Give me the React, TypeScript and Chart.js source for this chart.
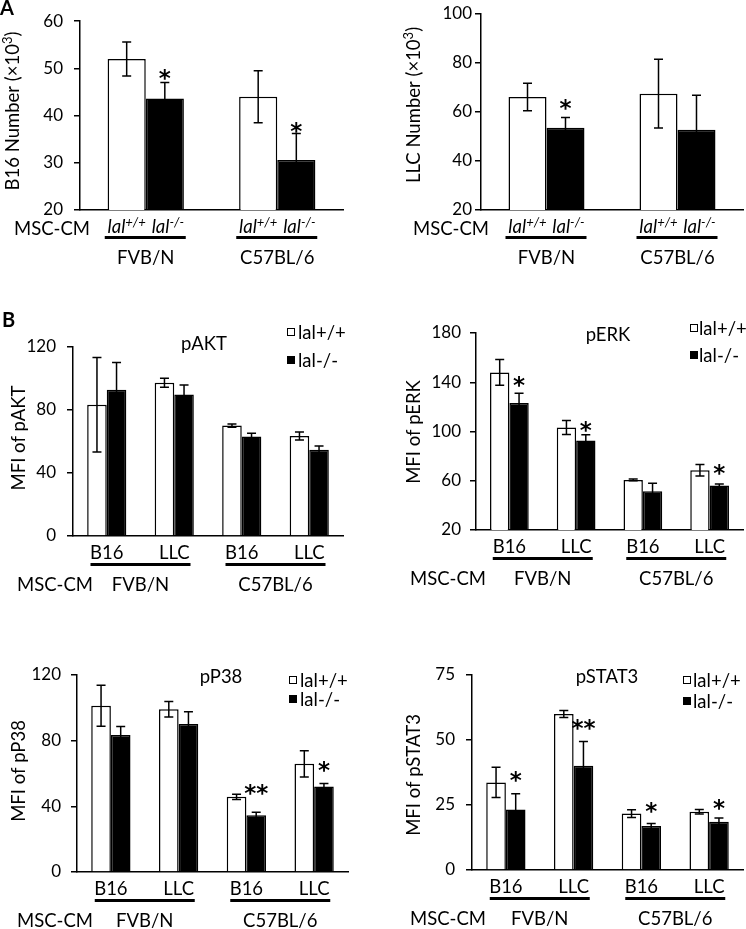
import React, { useEffect, useRef } from 'react';
import { Chart, registerables } from 'chart.js';
Chart.register(...registerables);

const W = 746;
const H = 929;
const FONT = 'Lato, "Open Sans", sans-serif';
const STAR_FONT = 'bold 23px "DejaVu Sans", sans-serif';

// ---------- Data ----------
// Panel A
const strainGroups = ['FVB/N', 'C57BL/6'];
const b16Wt = [52.0, 44.0];
const b16WtErr = [3.6, 5.5];
const b16Ko = [43.6, 30.6];
const b16KoErr = [3.4, 5.6];
const b16Stars = ['*', '*'];
const b16StarLevel = [47.6, 36.3];

const llcWt = [66.1, 67.5];
const llcWtErr = [5.6, 14.0];
const llcKo = [53.6, 52.8];
const llcKoErr = [4.2, 14.0];
const llcStars = ['*', ''];
const llcStarLevel = [60.8, 0];

// Panel B
const cellCats = ['B16', 'LLC', 'B16', 'LLC'];

const aktWt = [83.3, 97.3, 70.1, 63.5];
const aktWtErr = [30.0, 2.8, 1.0, 2.5];
const aktKo = [92.8, 89.8, 63.1, 54.8];
const aktKoErr = [17.4, 6.0, 2.1, 2.3];
const aktStars = ['', '', '', ''];
const aktStarLevel = [0, 0, 0, 0];

const erkWt = [148.0, 103.3, 60.7, 68.5];
const erkWtErr = [10.5, 5.7, 0.8, 4.7];
const erkKo = [123.1, 92.7, 51.5, 56.1];
const erkKoErr = [8.0, 4.6, 6.5, 1.3];
const erkStars = ['*', '*', '', '*'];
const erkStarLevel = [136.1, 99.6, 0, 64.7];

const p38Wt = [101.3, 99.1, 45.8, 65.9];
const p38WtErr = [12.5, 4.7, 1.6, 8.0];
const p38Ko = [83.4, 90.1, 34.6, 52.1];
const p38KoErr = [5.3, 7.5, 1.8, 1.8];
const p38Stars = ['', '', '**', '*'];
const p38StarLevel = [0, 0, 46.9, 60.9];

const stat3Wt = [33.7, 60.0, 21.7, 22.4];
const stat3WtErr = [5.8, 1.3, 1.5, 0.9];
const stat3Ko = [23.3, 40.1, 16.9, 18.6];
const stat3KoErr = [6.0, 9.3, 1.0, 1.4];
const stat3Stars = ['*', '**', '*', '*'];
const stat3StarLevel = [34.0, 53.8, 21.9, 23.1];

const legendLabels = ['lal+/+', 'lal-/-'];

// ---------- Layout ----------
type Part = { t: string; sup?: boolean; it?: boolean };
type PanelCfg = {
  kind: 'A' | 'B';
  area: { l: number; r: number; t: number; b: number };
  yMin: number; yMax: number; step: number; tickPad: number;
  cats: string[];
  wt: number[]; wtErr: number[]; ko: number[]; koErr: number[];
  stars: string[]; starLevel: number[];
  yTitle: Part[]; yTitleX: number; yTitleY: number;
  mscX: number;
  title?: string; titleX?: number; titleY?: number;
  legendX?: number; legendY1?: number; legendY2?: number; legendGap?: number;
  letter?: { t: string; x: number; y: number };
};

const panels: PanelCfg[] = [
  {
    kind: 'A', area: { l: 80, r: 343, t: 14, b: 210 }, yMin: 20, yMax: 60, step: 10, tickPad: 11,
    cats: strainGroups, wt: b16Wt, wtErr: b16WtErr, ko: b16Ko, koErr: b16KoErr,
    stars: b16Stars, starLevel: b16StarLevel,
    yTitle: [{ t: 'B16 Number (×10' }, { t: '3', sup: true }, { t: ')' }], yTitleX: 12, yTitleY: 111,
    mscX: 14, letter: { t: 'A', x: 0, y: 15 },
  },
  {
    kind: 'A', area: { l: 481, r: 743, t: 14, b: 210 }, yMin: 20, yMax: 100, step: 20, tickPad: 3,
    cats: strainGroups, wt: llcWt, wtErr: llcWtErr, ko: llcKo, koErr: llcKoErr,
    stars: llcStars, starLevel: llcStarLevel,
    yTitle: [{ t: 'LLC Number (×10' }, { t: '3', sup: true }, { t: ')' }], yTitleX: 413, yTitleY: 105,
    mscX: 413,
  },
  {
    kind: 'B', area: { l: 73, r: 343, t: 347, b: 536 }, yMin: 0, yMax: 120, step: 40, tickPad: 11,
    cats: cellCats, wt: aktWt, wtErr: aktWtErr, ko: aktKo, koErr: aktKoErr,
    stars: aktStars, starLevel: aktStarLevel,
    yTitle: [{ t: 'MFI of pAKT' }], yTitleX: 18, yTitleY: 438, mscX: 17,
    title: 'pAKT', titleX: 204, titleY: 343, legendX: 287, legendY1: 332, legendY2: 360, legendGap: 11,
    letter: { t: 'B', x: 2, y: 327 },
  },
  {
    kind: 'B', area: { l: 476, r: 743, t: 333, b: 530 }, yMin: 20, yMax: 180, step: 40, tickPad: 9,
    cats: cellCats, wt: erkWt, wtErr: erkWtErr, ko: erkKo, koErr: erkKoErr,
    stars: erkStars, starLevel: erkStarLevel,
    yTitle: [{ t: 'MFI of pERK' }], yTitleX: 413, yTitleY: 432, mscX: 410,
    title: 'pERK', titleX: 608, titleY: 334, legendX: 690, legendY1: 328, legendY2: 355, legendGap: 9,
  },
  {
    kind: 'B', area: { l: 77, r: 348, t: 675, b: 872 }, yMin: 0, yMax: 120, step: 40, tickPad: 10,
    cats: cellCats, wt: p38Wt, wtErr: p38WtErr, ko: p38Ko, koErr: p38KoErr,
    stars: p38Stars, starLevel: p38StarLevel,
    yTitle: [{ t: 'MFI of pP38' }], yTitleX: 18, yTitleY: 771, mscX: 17,
    title: 'pP38', titleX: 221, titleY: 676, legendX: 289, legendY1: 680, legendY2: 699, legendGap: 11,
  },
  {
    kind: 'B', area: { l: 472, r: 743, t: 675, b: 870 }, yMin: 0, yMax: 75, step: 25, tickPad: 11,
    cats: cellCats, wt: stat3Wt, wtErr: stat3WtErr, ko: stat3Ko, koErr: stat3KoErr,
    stars: stat3Stars, starLevel: stat3StarLevel,
    yTitle: [{ t: 'MFI of pSTAT3' }], yTitleX: 413, yTitleY: 775, mscX: 410,
    title: 'pSTAT3', titleX: 607, titleY: 676, legendX: 683, legendY1: 680, legendY2: 701, legendGap: 10,
  },
];

const FS = 18.5;
const TICK_FS = 17;
const Y_AXIS_W = 60;

function drawRich(ctx: CanvasRenderingContext2D, parts: Part[], x: number, y: number, size: number, align: 'left' | 'center' | 'right') {
  const fontFor = (p: Part) => `${p.it ? 'italic ' : ''}${p.sup ? Math.round(size * 0.68) : size}px ${FONT}`;
  let total = 0;
  const widths = parts.map((p) => {
    ctx.font = fontFor(p);
    const w = ctx.measureText(p.t).width;
    total += w;
    return w;
  });
  let cx = align === 'left' ? x : align === 'center' ? x - total / 2 : x - total;
  ctx.textAlign = 'left';
  ctx.textBaseline = 'alphabetic';
  parts.forEach((p, i) => {
    ctx.font = fontFor(p);
    ctx.fillText(p.t, cx, p.sup ? y - size * 0.36 : y);
    cx += widths[i];
  });
}

function makeOverlay(cfg: PanelCfg) {
  return {
    id: 'overlay',
    afterDatasetsDraw(chart: any) {
      const ctx: CanvasRenderingContext2D = chart.ctx;
      const ys = chart.scales.y;
      ctx.save();
      // error bars
      const sets = [[cfg.wt, cfg.wtErr], [cfg.ko, cfg.koErr]];
      sets.forEach(([vals, errs], d) => {
        const meta = chart.getDatasetMeta(d);
        meta.data.forEach((el: any, i: number) => {
          const top = ys.getPixelForValue(vals[i] + errs[i]);
          const bot = ys.getPixelForValue(vals[i] - errs[i]);
          ctx.strokeStyle = '#000';
          ctx.lineWidth = 1.5;
          ctx.beginPath();
          ctx.moveTo(el.x, top); ctx.lineTo(el.x, bot);
          ctx.moveTo(el.x - 4.5, top); ctx.lineTo(el.x + 4.5, top);
          ctx.moveTo(el.x - 4.5, bot); ctx.lineTo(el.x + 4.5, bot);
          ctx.stroke();
        });
      });
      // significance stars
      const koMeta = chart.getDatasetMeta(1);
      cfg.stars.forEach((s, i) => {
        if (!s) return;
        const x = koMeta.data[i].x;
        const yb = ys.getPixelForValue(cfg.starLevel[i]);
        ctx.font = STAR_FONT;
        ctx.textAlign = 'center';
        ctx.textBaseline = 'alphabetic';
        ctx.fillStyle = '#000';
        const m = ctx.measureText(s);
        ctx.fillText(s, x, yb - m.actualBoundingBoxDescent);
      });
      ctx.restore();
    },
    afterDraw(chart: any) {
      const ctx: CanvasRenderingContext2D = chart.ctx;
      const xs = chart.scales.x;
      const a = cfg.area;
      ctx.save();
      ctx.fillStyle = '#000';
      ctx.strokeStyle = '#000';
      const cap = FS * 0.36;
      // MSC-CM
      const mscY = cfg.kind === 'A' ? a.b + 18 : a.b + 48;
      drawRich(ctx, [{ t: 'MSC-CM' }], cfg.mscX, mscY + cap, FS, 'left');
      if (cfg.kind === 'A') {
        const m0 = chart.getDatasetMeta(0);
        const m1 = chart.getDatasetMeta(1);
        cfg.cats.forEach((g, i) => {
          const cx = xs.getPixelForValue(i);
          drawRich(ctx, [{ t: 'lal', it: true }, { t: '+/+', sup: true, it: true }], m0.data[i].x, a.b + 16.5 + cap, FS, 'center');
          drawRich(ctx, [{ t: 'lal', it: true }, { t: '-/-', sup: true, it: true }], m1.data[i].x + 3, a.b + 16.5 + cap, FS, 'center');
          ctx.lineWidth = 3;
          ctx.beginPath();
          ctx.moveTo(cx - 41, a.b + 27.5); ctx.lineTo(cx + 40, a.b + 27.5);
          ctx.stroke();
          drawRich(ctx, [{ t: g }], cx, a.b + 47 + cap, FS, 'center');
        });
      } else {
        cfg.cats.forEach((c, i) => {
          drawRich(ctx, [{ t: c }], xs.getPixelForValue(i), a.b + 16.5 + cap, FS, 'center');
        });
        strainGroups.forEach((g, gi) => {
          const mid = (xs.getPixelForValue(gi * 2) + xs.getPixelForValue(gi * 2 + 1)) / 2;
          ctx.lineWidth = 3;
          ctx.beginPath();
          ctx.moveTo(mid - 50, a.b + 28.5); ctx.lineTo(mid + 50, a.b + 28.5);
          ctx.stroke();
          drawRich(ctx, [{ t: g }], mid, a.b + 48 + cap, FS, 'center');
        });
        // title
        drawRich(ctx, [{ t: cfg.title! }], cfg.titleX!, cfg.titleY! + cap, FS, 'center');
        // legend
        const lx = cfg.legendX!;
        ctx.lineWidth = 1;
        ctx.fillStyle = '#fff';
        ctx.fillRect(lx + 0.5, cfg.legendY1! - 3.5, 7, 7);
        ctx.strokeRect(lx + 0.5, cfg.legendY1! - 3.5, 7, 7);
        ctx.fillStyle = '#000';
        ctx.fillRect(lx, cfg.legendY2! - 4, 8, 8);
        drawRich(ctx, [{ t: legendLabels[0] }], lx + cfg.legendGap!, cfg.legendY1! + cap, FS, 'left');
        drawRich(ctx, [{ t: legendLabels[1] }], lx + cfg.legendGap!, cfg.legendY2! + cap, FS, 'left');
      }
      // y title
      ctx.save();
      ctx.translate(cfg.yTitleX, cfg.yTitleY);
      ctx.rotate(-Math.PI / 2);
      drawRich(ctx, cfg.yTitle, 0, cap, FS, 'center');
      ctx.restore();
      // panel letter
      if (cfg.letter) {
        ctx.font = `bold 20px ${FONT}`;
        ctx.textAlign = 'left';
        ctx.textBaseline = 'alphabetic';
        ctx.fillText(cfg.letter.t, cfg.letter.x, cfg.letter.y);
      }
      ctx.restore();
    },
  };
}

function Panel({ cfg }: { cfg: PanelCfg }) {
  const ref = useRef<HTMLCanvasElement>(null);
  useEffect(() => {
    const a = cfg.area;
    const chart = new Chart(ref.current!, {
      type: 'bar',
      data: {
        labels: cfg.cats,
        datasets: [
          { label: legendLabels[0], data: cfg.wt, backgroundColor: '#fff', borderColor: '#000', borderWidth: 1.5 },
          { label: legendLabels[1], data: cfg.ko, backgroundColor: '#000', borderColor: '#000', borderWidth: 1.5 },
        ],
      },
      options: {
        responsive: false,
        animation: false,
        devicePixelRatio: 1,
        events: [],
        layout: { padding: { left: a.l - Y_AXIS_W, right: W - a.r, top: a.t, bottom: H - a.b } },
        plugins: { legend: { display: false }, tooltip: { enabled: false }, title: { display: false } },
        datasets: { bar: { categoryPercentage: 0.58, barPercentage: 1 } },
        scales: {
          x: {
            ticks: { display: false },
            grid: { display: false, drawTicks: false },
            border: { display: true, color: '#000', width: 1.5 },
            afterFit: (s: any) => { s.height = 0; },
          },
          y: {
            min: cfg.yMin,
            max: cfg.yMax,
            ticks: { stepSize: cfg.step, color: '#000', font: { family: FONT, size: TICK_FS }, padding: cfg.tickPad },
            grid: { display: true, drawOnChartArea: false, drawTicks: true, tickLength: 6, color: '#000', lineWidth: 1.5 },
            border: { display: true, color: '#000', width: 1.5 },
            afterFit: (s: any) => { s.width = Y_AXIS_W; },
          },
        },
      } as any,
      plugins: [makeOverlay(cfg)],
    });
    return () => chart.destroy();
  }, [cfg]);
  return (
    <canvas
      ref={ref}
      width={W}
      height={H}
      style={{ position: 'absolute', left: 0, top: 0, width: W, height: H }}
    />
  );
}

export default function App() {
  return (
    <div style={{ position: 'absolute', left: 0, top: 0, width: W, height: H, background: '#fff' }}>
      {panels.map((p, i) => (
        <Panel key={i} cfg={p} />
      ))}
    </div>
  );
}
